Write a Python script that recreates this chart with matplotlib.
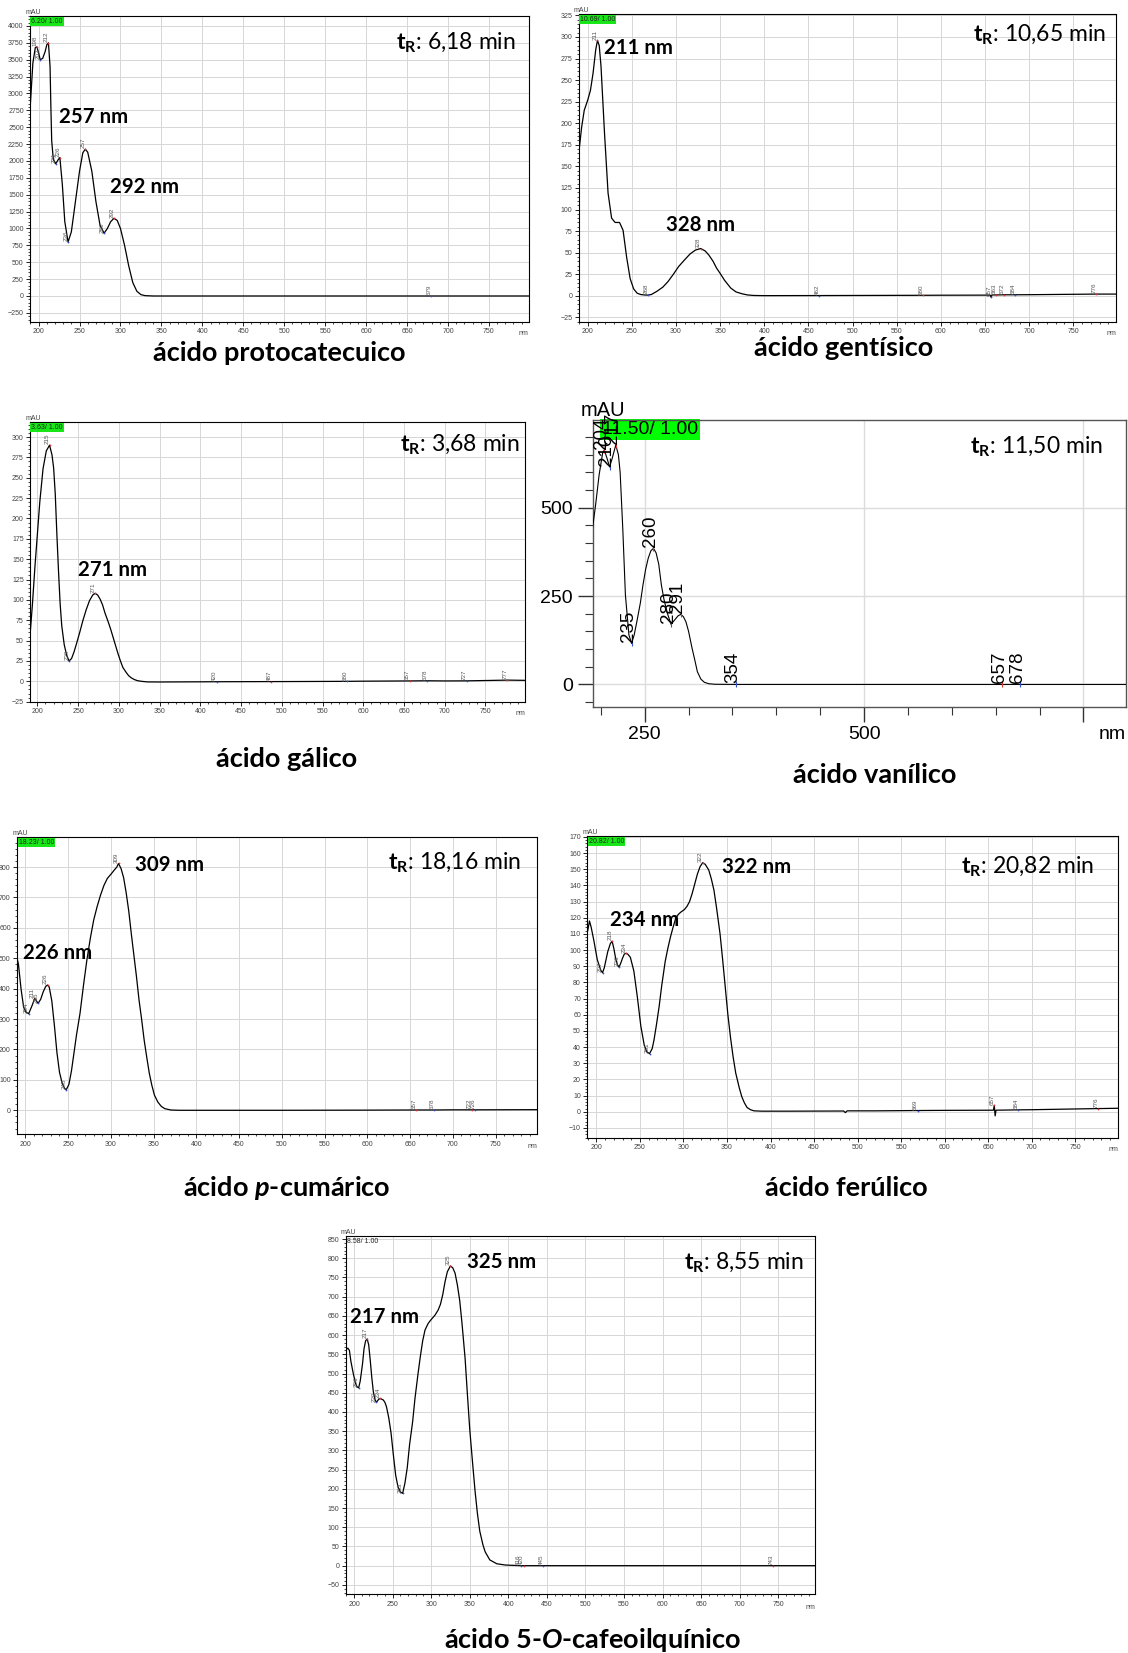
import numpy as np
import matplotlib
matplotlib.use('Agg')
import matplotlib.pyplot as plt
from matplotlib.ticker import MultipleLocator, FixedLocator

plt.rcParams['font.family'] = ['Liberation Sans', 'DejaVu Sans']
plt.rcParams['mathtext.fontset'] = 'custom'
plt.rcParams['mathtext.rm'] = 'Lato'
plt.rcParams['mathtext.bf'] = 'Lato:bold'
plt.rcParams['mathtext.it'] = 'Lato:italic'
plt.rcParams['mathtext.bfit'] = 'Lato:bold:italic'

# ---- spectra (wavelength nm, absorbance mAU) ----
nm_proto = [190, 193, 196, 198, 200, 202, 205, 208, 210, 212, 214, 215, 216, 218, 221, 224, 226, 229, 232,
            236, 240, 245, 250, 254, 257, 260, 265, 270, 275, 280, 284, 288, 292, 296, 300, 305, 310, 315,
            320, 325, 330, 340, 400, 500, 600, 679, 700, 800]
ab_proto = [2850, 3450, 3680, 3690, 3600, 3500, 3520, 3620, 3720, 3750, 3400, 2800, 2300, 2020, 1960, 2020,
            2050, 1650, 1100, 800, 950, 1400, 1850, 2120, 2175, 2130, 1850, 1400, 1050, 930, 1000, 1100,
            1150, 1120, 1000, 750, 450, 200, 70, 20, 5, 0, 0, 0, 0, 0, 0, 0]
pk_proto = [198, 202, 212, 221, 226, 236, 257, 280, 292, 679]
kd_proto = ['M', 'm', 'M', 'm', 'M', 'm', 'M', 'm', 'M', 'm']

nm_gent = [190, 193, 196, 200, 203, 206, 209, 211, 213, 215, 219, 223, 227, 231, 236, 240, 244, 248, 252,
           256, 260, 264, 268, 272, 278, 285, 291, 297, 303, 310, 316, 322, 328, 333, 337, 342, 346, 350,
           355, 362, 368, 375, 381, 388, 400, 462, 500, 580, 600, 656, 657, 658, 663, 672, 684, 700, 776, 800]
ab_gent = [167, 195, 215, 227, 238, 258, 285, 296, 290, 266, 188, 119, 90, 85, 85, 76, 45, 20, 8,
           3, 1.5, 1, 0.8, 1.5, 5, 10, 16.6, 25, 34, 42, 48.6, 53, 54.8, 52, 47.5, 40, 32, 26,
           18, 9, 4.5, 2.3, 1, 0.4, 0.2, 0.3, 0.4, 0.6, 0.7, 0.8, -1.5, 1.0, 1.0, 1.2, 1.2, 1.3, 2.0, 2.0]
pk_gent = [211, 268, 328, 462, 580, 657, 663, 672, 684, 776]
kd_gent = ['M', 'm', 'M', 'm', 'M', 'm', 'M', 'M', 'm', 'M']

nm_gal = [191, 194, 197, 200, 203, 207, 211, 215, 218, 220, 222, 224, 226, 228, 230, 233, 236, 239, 242,
          245, 248, 252, 256, 260, 264, 268, 271, 274, 277, 280, 283, 287, 290, 293, 296, 299, 302, 305,
          309, 312, 315, 319, 323, 328, 335, 350, 420, 487, 500, 580, 600, 657, 678, 700, 727, 777, 800]
ab_gal = [56, 95, 140, 180, 220, 261, 283, 290, 278, 262, 230, 180, 135, 95, 68, 45, 32, 25, 28,
          36, 46, 60, 75, 88, 99, 106, 108, 106, 101, 94, 84, 73, 64, 54, 44, 34, 25, 17,
          11, 7, 4.5, 2.2, 0.8, 0, -0.7, -0.8, -0.5, -0.3, -0.3, 0, 0.2, 0.5, 0.7, 0.5, 0.6, 1.5, 1.2]
pk_gal = [215, 239, 271, 420, 487, 580, 657, 678, 727, 777]
kd_gal = ['M', 'm', 'M', 'm', 'M', 'm', 'M', 'm', 'm', 'M']

nm_van = [190, 194, 198, 202, 204, 207, 210, 213, 217, 220, 222, 225, 228, 232, 235, 238, 241, 245, 248,
          251, 254, 257, 260, 263, 266, 269, 272, 276, 280, 284, 288, 291, 294, 297, 300, 304, 307, 310,
          314, 318, 323, 330, 354, 400, 500, 600, 657, 678, 700, 800]
ab_van = [432, 507, 592, 654, 663, 640, 615, 640, 677, 650, 600, 441, 253, 140, 116, 140, 177, 230, 281,
          325, 357, 378, 385, 372, 340, 281, 240, 200, 170, 182, 194, 198, 192, 177, 150, 102, 70, 36,
          15, 6, 2, 0.5, 0, 0, 0, 0, 0, 0, 0, 0]
pk_van = [204, 210, 217, 235, 260, 280, 291, 354, 657, 678]
kd_van = ['M', 'm', 'M', 'm', 'M', 'm', 'M', 'm', 'M', 'm']

nm_cum = [190, 192, 195, 198, 201, 204, 208, 211, 213, 215, 218, 221, 224, 226, 228, 231, 234, 237, 240,
          243, 246, 248, 251, 254, 257, 260, 264, 268, 272, 276, 280, 284, 288, 292, 296, 300, 304, 307,
          309, 312, 315, 318, 321, 324, 327, 330, 333, 336, 339, 342, 345, 348, 351, 355, 359, 363, 370,
          380, 500, 600, 657, 678, 700, 722, 726, 800]
ab_cum = [505, 480, 400, 340, 322, 318, 345, 368, 360, 352, 365, 390, 408, 412, 405, 360, 280, 190, 125,
          90, 72, 68, 85, 130, 190, 250, 319, 410, 494, 565, 626, 670, 708, 740, 763, 776, 790, 800,
          812, 795, 765, 715, 655, 580, 510, 440, 363, 300, 231, 175, 122, 82, 50, 27, 13, 5.5, 1,
          0, 0, 0.5, 1, 1, 1.5, 1.5, 1.5, 2]
pk_cum = [204, 211, 215, 226, 248, 309, 657, 678, 722, 726]
kd_cum = ['m', 'M', 'm', 'M', 'm', 'M', 'M', 'm', 'M', 'm']

nm_fer = [190, 192, 194, 197, 201, 205, 207, 209, 211, 213, 216, 218, 220, 222, 224, 226, 228, 230, 232,
          234, 236, 239, 243, 247, 251, 255, 258, 261, 264, 266, 269, 272, 275, 279, 282, 285, 288, 291,
          294, 297, 301, 304, 307, 310, 313, 316, 319, 322, 325, 329, 332, 335, 338, 342, 345, 348, 351,
          354, 357, 360, 364, 367, 370, 373, 377, 381, 390, 420, 484, 486, 488, 520, 569, 600, 656, 657,
          658, 659, 684, 700, 776, 800]
ab_fer = [112, 118, 114, 106, 94, 87.5, 86, 89, 94, 99, 104, 105.5, 101, 95, 91, 89.5, 92, 95, 97.5,
          98, 97.5, 95.5, 87, 71, 53, 41, 37, 36, 39, 44, 54, 65, 78, 93, 101, 108, 114, 119.5,
          122, 123.5, 125, 127, 130, 135, 141, 147, 151.5, 154, 153, 149.5, 144, 137, 126, 110, 94, 77, 60,
          46, 34, 24, 15, 9.3, 5.5, 2.7, 1.3, 0.6, 0.4, 0.4, 0.5, -0.5, 0.6, 0.6, 0.8, 0.9, 1.0, 4.0,
          -2.5, 1.0, 1.2, 1.3, 2.0, 2.2]
pk_fer = [207, 218, 226, 234, 261, 322, 569, 657, 684, 776]
kd_fer = ['m', 'M', 'm', 'M', 'm', 'M', 'm', 'M', 'm', 'M']

nm_caf = [189, 192, 194, 196, 199, 202, 204, 206, 208, 211, 213, 215, 217, 219, 221, 223, 225, 227, 229,
          232, 234, 236, 238, 240, 242, 245, 248, 251, 254, 257, 260, 263, 266, 269, 272, 276, 279, 283,
          286, 289, 292, 296, 299, 302, 305, 309, 312, 315, 318, 321, 325, 328, 331, 334, 337, 340, 344,
          347, 350, 354, 357, 360, 363, 367, 370, 376, 385, 396, 416, 420, 445, 500, 743, 800]
ab_caf = [561, 566, 560, 531, 500, 474, 465, 463, 480, 525, 565, 585, 590, 575, 535, 490, 453, 433, 425,
          433, 435, 433, 431, 425, 414, 385, 345, 288, 235, 205, 192, 188, 215, 255, 315, 375, 435, 500,
          545, 585, 613, 630, 638, 645, 652, 665, 680, 705, 739, 765, 780, 775, 761, 730, 690, 630, 539,
          445, 355, 260, 192, 135, 90, 55, 36, 15, 5, 1.7, 0, 0, 0, 0, 0, 0]
pk_caf = [206, 217, 229, 234, 263, 325, 416, 420, 445, 743]
kd_caf = ['m', 'M', 'm', 'M', 'm', 'M', 'm', 'M', 'm', 'M']

W, H = 1128, 1653
fig = plt.figure(figsize=(W / 100, H / 100), dpi=100)


def add_ax(L, T, R, B):
    return fig.add_axes([L / W, 1 - B / H, (R - L) / W, (B - T) / H])


def ftext(x, y, s, **kw):
    return fig.text(x / W, 1 - y / H, s, **kw)


def small_panel(box, nm, ab, pk, kd, xlim, ylim, ymaj, ymin, run):
    ax = add_ax(*box)
    ax.plot(nm, ab, color='black', lw=0.9, zorder=3)
    ax.set_xlim(*xlim)
    ax.set_ylim(*ylim)
    ax.xaxis.set_major_locator(FixedLocator(list(range(200, 800, 50))))
    ax.xaxis.set_minor_locator(MultipleLocator(10))
    ax.yaxis.set_major_locator(MultipleLocator(ymaj))
    ax.yaxis.set_minor_locator(MultipleLocator(ymin))
    ax.grid(True, which='major', color='#d6d6d6', lw=0.7)
    ax.set_axisbelow(True)
    ax.tick_params(which='major', length=3, width=0.6, labelsize=5, labelcolor='#444', pad=1.5)
    ax.tick_params(which='minor', length=1.6, width=0.5)
    for s in ax.spines.values():
        s.set_linewidth(0.8)
    ax.text(1.0, -0.028, 'nm', transform=ax.transAxes, ha='right', va='top', fontsize=5, color='#444')
    ax.text(0.006, 1.0, 'mAU', transform=ax.transAxes, ha='center', va='bottom', fontsize=5, color='#444')
    if run is not None:
        txt, green = run
        ax.text(0.003, 0.993, txt, transform=ax.transAxes, ha='left', va='top', fontsize=5,
                color='#222', zorder=5,
                bbox=dict(boxstyle='square,pad=0.15', fc='#19e619' if green else 'none', ec='none'))
    ys = np.interp(pk, nm, ab)
    for p, y, k in zip(pk, ys, kd):
        ax.plot([p], [y], 'o', ms=1.3, mec='none', color='#e03030' if k == 'M' else '#3050d0', zorder=4)
        ax.annotate(str(p), (p, y), xytext=(-1.5, 0.5), textcoords='offset points', rotation=90,
                    ha='center', va='bottom', fontsize=4.5, color='#555', zorder=4)
    return ax


small_panel((30, 15.7, 528.6, 321.7), nm_proto, ab_proto, pk_proto, kd_proto,
            (189.5, 798.5), (-381, 4152), 250, 50, ('6.20/ 1.00', True))
small_panel((578.5, 14, 1116.4, 321.7), nm_gent, ab_gent, pk_gent, kd_gent,
            (189.5, 799), (-30, 326.6), 25, 5, ('10.69/ 1.00', True))
small_panel((30, 421.7, 525, 701.7), nm_gal, ab_gal, pk_gal, kd_gal,
            (191, 798.5), (-25, 318.8), 25, 5, ('3.63/ 1.00', True))
small_panel((17, 837.3, 537, 1134.3), nm_cum, ab_cum, pk_cum, kd_cum,
            (190.3, 798.4), (-79, 898), 100, 20, ('18.23/ 1.00', True))
small_panel((587.2, 835.7, 1117.9, 1137.7), nm_fer, ab_fer, pk_fer, kd_fer,
            (189.4, 799), (-16, 170.7), 10, 2, ('20.82/ 1.00', True))
small_panel((345.7, 1235.7, 815, 1594.3), nm_caf, ab_caf, pk_caf, kd_caf,
            (189.2, 797.6), (-74.5, 858.6), 50, 10, ('8.58/ 1.00', False))

# ---- vanillic acid panel, exported with large fonts ----
ax = add_ax(592.5, 420, 1126, 706.7)
ax.plot(nm_van, ab_van, color='black', lw=0.8, zorder=3)
ax.set_xlim(190.5, 798.5)
ax.set_ylim(-63, 748)
ax.xaxis.set_major_locator(FixedLocator([250, 500, 750]))
ax.xaxis.set_minor_locator(MultipleLocator(50))
ax.set_xticklabels(['250', '500', ''])
ax.yaxis.set_major_locator(FixedLocator([0, 250, 500]))
ax.yaxis.set_minor_locator(MultipleLocator(50))
ax.grid(True, which='major', color='#dcdcdc', lw=1)
ax.set_axisbelow(True)
ax.tick_params(which='major', length=11, width=1, labelsize=14, pad=3, color='#333')
ax.tick_params(which='minor', length=6, width=0.8, color='#333')
for s in ax.spines.values():
    s.set_color('#555')
    s.set_linewidth(1)
ax.text(1.0, -0.068, 'nm', transform=ax.transAxes, ha='right', va='top', fontsize=14)
ax.text(0.02, 1.0, 'mAU', transform=ax.transAxes, ha='center', va='bottom', fontsize=14.5)
ax.text(0.018, 0.998, '11.50/ 1.00', transform=ax.transAxes, ha='left', va='top', fontsize=14,
        zorder=2, bbox=dict(boxstyle='square,pad=0.1', fc='#00ff00', ec='none'))
ys = np.interp(pk_van, nm_van, ab_van)
for p, y, k in zip(pk_van, ys, kd_van):
    ax.plot([p], [y], '|', ms=4, mew=0.8, color='#e03030' if k == 'M' else '#3050d0', zorder=4)
    ax.annotate(str(p), (p, y), xytext=(-2, 1), textcoords='offset points', rotation=90,
                ha='center', va='bottom', fontsize=13.5, color='black', zorder=6,
                annotation_clip=False)

# ---- annotations ----
bold = dict(family='Lato', fontweight='bold', fontsize=14.7, va='center', ha='left')
ftext(59, 116.7, '257 nm', **bold)
ftext(109.5, 186.7, '292 nm', **bold)
ftext(604.5, 48.3, '211 nm', **bold)
ftext(665.8, 225, '328 nm', **bold)
ftext(78.5, 570, '271 nm', **bold)
ftext(134.9, 865, '309 nm', **bold)
ftext(22.6, 953.3, '226 nm', **bold)
ftext(722, 866.7, '322 nm', **bold)
ftext(609.8, 920, '234 nm', **bold)
ftext(466.7, 1261.7, '325 nm', **bold)
ftext(350, 1316.7, '217 nm', **bold)

tr = dict(family='Lato', fontsize=16.5, va='center', ha='left')
ftext(396, 43, r'$\mathbf{t_R}$: 6,18 min', **tr)
ftext(973, 35, r'$\mathbf{t_R}$: 10,65 min', **tr)
ftext(400, 445, r'$\mathbf{t_R}$: 3,68 min', **tr)
ftext(970, 446.7, r'$\mathbf{t_R}$: 11,50 min', **tr)
ftext(388, 862.7, r'$\mathbf{t_R}$: 18,16 min', **tr)
ftext(961, 866.7, r'$\mathbf{t_R}$: 20,82 min', **tr)
ftext(684, 1263.3, r'$\mathbf{t_R}$: 8,55 min', **tr)

title = dict(family='Lato', fontweight='bold', fontsize=19.5, va='center', ha='center')
ftext(279.4, 353.2, 'ácido protocatecuico', **title)
ftext(843.4, 347.9, 'ácido gentísico', **title)
ftext(286.7, 759, 'ácido gálico', **title)
ftext(875, 774.8, 'ácido vanílico', **title)
ftext(286.7, 1188, r'ácido $\mathbfit{p}$-cumárico', **title)
ftext(846.5, 1188, 'ácido ferúlico', **title)
ftext(592.5, 1640, r'ácido 5-$\mathbfit{O}$-cafeoilquínico', **title)

fig.savefig('out.png', dpi=100)
